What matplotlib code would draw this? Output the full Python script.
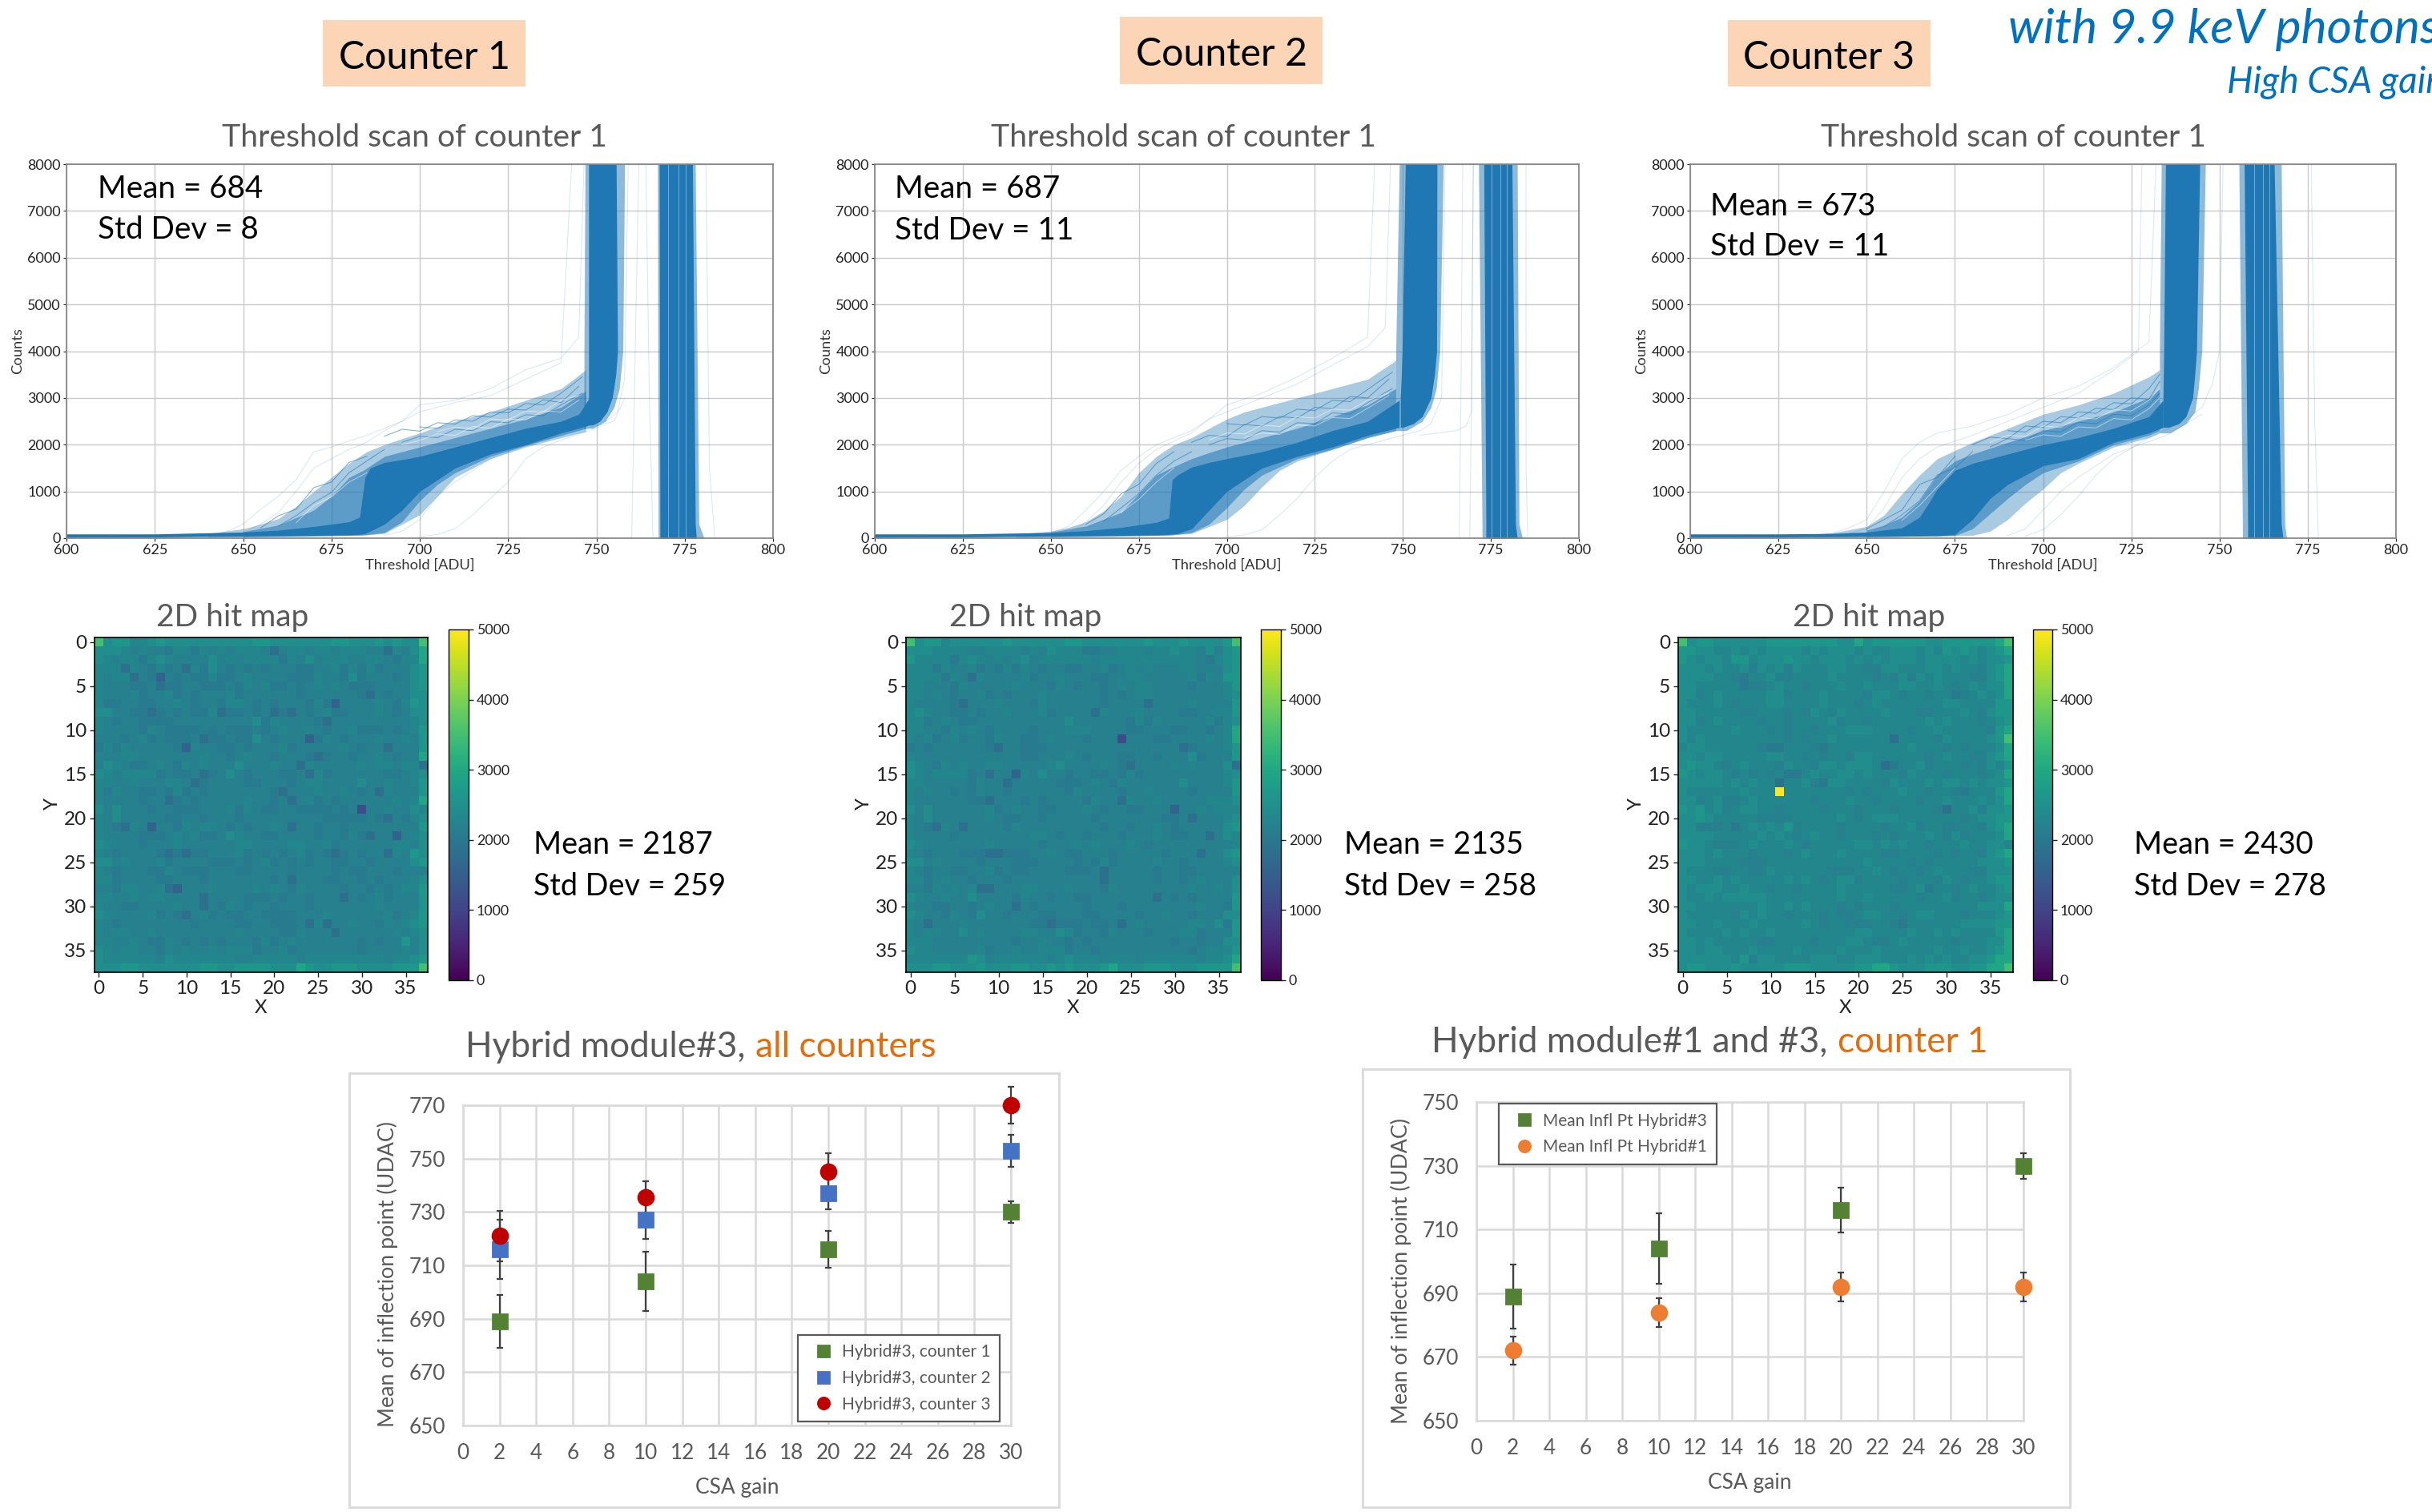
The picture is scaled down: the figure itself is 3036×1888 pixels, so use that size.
import numpy as np
import matplotlib
matplotlib.use('Agg')
import matplotlib.pyplot as plt
from matplotlib.patches import Rectangle

plt.rcParams['font.family'] = ['Lato', 'DejaVu Sans']

W, H = 3036, 1888
BLUE = '#1f77b4'
GRAY = '#595959'
ORANGE = '#E46C0A'

# threshold scans, values: dense band, inner and outer bands, rise and fall
scan1_core_x = [600, 625, 650, 660, 670, 680, 683, 684.5, 686, 690, 695, 700, 710, 720, 730, 740, 745, 748]
scan1_core_hi = [90, 90, 130, 170, 250, 350, 450, 1300, 1500, 1620, 1680, 1750, 1950, 2150, 2350, 2500, 2650, 3000]
scan1_core_lo = [20, 25, 40, 50, 60, 70, 80, 100, 150, 300, 600, 1000, 1500, 1800, 2000, 2250, 2350, 2420]
scan1_inner_x = [650, 660, 670, 675, 680, 684, 690, 695, 700, 705, 710, 720, 730, 740, 747]
scan1_inner_hi = [140, 280, 600, 900, 1300, 1450, 1750, 1850, 1950, 2050, 2150, 2350, 2550, 2800, 3150]
scan1_inner_lo = [30, 40, 50, 55, 60, 65, 120, 350, 800, 1150, 1400, 1750, 1980, 2200, 2350]
scan1_outer_x = [640, 650, 655, 660, 665, 670, 675, 680, 685, 690, 695, 700, 705, 710, 720, 730, 740, 747]
scan1_outer_hi = [100, 200, 300, 420, 680, 1000, 1300, 1600, 1850, 2000, 2130, 2250, 2380, 2500, 2700, 2950, 3200, 3600]
scan1_outer_lo = [20, 25, 28, 30, 35, 40, 50, 60, 70, 100, 300, 500, 900, 1300, 1700, 1950, 2150, 2280]
scan1_rise = ([2420, 2500, 2700, 3000, 3500, 4000, 8000], [747.8, 747.8, 747.8, 747.8, 747.8, 747.8, 747.8],
              [749, 751, 753, 754.5, 755.5, 756, 755.6])
scan1_rise_mid = ([2350, 2500, 2800, 3200, 4000, 8000], [746.5, 746.5, 746.5, 746.5, 746.5, 746.8],
                  [749, 752.5, 755, 756.5, 757.5, 758])
scan1_fall = ([0, 300, 8000], [768, 768, 767.8], [778.3, 778, 777.2])
scan1_fall_mid = ([0, 300, 8000], [767.5, 767.5, 767.3], [780.5, 779, 778])
scan1_gaps = [770.4, 773.2, 775.3]
scan1_faint = [
    ([640, 645, 650, 655, 660, 665, 670, 675, 680, 685, 690, 695, 700, 710, 720, 730, 740, 745, 746.5],
     [50, 130, 300, 620, 900, 1250, 1850, 1950, 2080, 2200, 2350, 2500, 2850, 2950, 3200, 3600, 3850, 4300, 8000]),
    ([650, 655, 660, 665, 670, 675, 680, 685, 690, 700, 710, 720, 730, 740, 743],
     [100, 300, 550, 1000, 1500, 1700, 1900, 2050, 2300, 2700, 2900, 3050, 3400, 3750, 8000]),
    ([700, 705, 710, 715, 720, 725, 730, 735, 740, 750, 756, 758, 759],
     [30, 80, 200, 500, 850, 1200, 1700, 1950, 2100, 2350, 2700, 3400, 8000]),
    ([690, 695, 700, 705, 710, 715, 720, 730, 745, 755, 758],
     [60, 150, 400, 900, 1200, 1450, 1700, 2000, 2300, 2500, 3000]),
    ([762, 761, 760], [8000, 4000, 0]),
    ([764, 765, 766], [8000, 3000, 0]),
    ([781, 782, 783.5], [8000, 1500, 0]),
]
scan1_strands = [
    ([690, 695, 700, 705, 710, 715, 720, 725, 730, 735, 740, 745], [2180, 2330, 2290, 2470, 2440, 2620, 2590, 2760, 2740, 2960, 2900, 3250]),
    ([695, 700, 705, 710, 715, 720, 725, 730, 735, 740, 746], [2050, 2180, 2150, 2330, 2300, 2490, 2470, 2640, 2620, 2850, 3100]),
    ([700, 705, 710, 715, 720, 725, 730, 735, 740, 746], [2380, 2350, 2530, 2500, 2700, 2680, 2880, 2850, 3100, 3450]),
    ([655, 660, 665, 670, 675, 680, 685], [220, 480, 620, 1080, 1200, 1620, 1750]),
    ([660, 665, 670, 675, 680, 685, 690], [260, 480, 760, 980, 1400, 1650, 1900]),
]
scan1_white = [
    ([695, 700, 705, 710, 715, 720, 725, 730, 735, 740, 745], [2000, 2090, 2230, 2200, 2390, 2350, 2550, 2530, 2720, 2700, 2950]),
    ([705, 710, 715, 720, 725, 730, 735, 740, 745], [2280, 2380, 2340, 2550, 2530, 2720, 2700, 2950, 3050]),
    ([665, 670, 675, 680, 685], [330, 700, 880, 1200, 1400]),
]
scan1_text = ('Mean = 684', 'Std Dev = 8')

scan2_core_x = [600, 625, 650, 660, 670, 680, 683.5, 684.5, 686, 690, 695, 700, 710, 720, 730, 740, 749]
scan2_core_hi = [90, 90, 120, 160, 230, 340, 430, 1250, 1350, 1520, 1620, 1700, 1850, 2050, 2300, 2500, 2950]
scan2_core_lo = [20, 25, 40, 50, 60, 70, 80, 90, 100, 200, 600, 1000, 1500, 1750, 1950, 2200, 2370]
scan2_inner_x = [650, 660, 670, 675, 680, 684, 690, 695, 700, 705, 710, 720, 730, 740, 748]
scan2_inner_hi = [130, 260, 550, 950, 1350, 1500, 1700, 1830, 1950, 2050, 2150, 2350, 2600, 2850, 3200]
scan2_inner_lo = [30, 40, 50, 55, 60, 65, 120, 300, 650, 1050, 1350, 1700, 1900, 2150, 2300]
scan2_outer_x = [640, 650, 655, 660, 665, 670, 675, 680, 685, 690, 695, 700, 705, 710, 715, 720, 730, 740, 748]
scan2_outer_hi = [90, 150, 230, 350, 580, 900, 1400, 1750, 2000, 2150, 2350, 2550, 2700, 2800, 2900, 3000, 3200, 3400, 3800]
scan2_outer_lo = [20, 25, 28, 30, 35, 40, 50, 60, 70, 100, 250, 400, 700, 1100, 1450, 1650, 1900, 2150, 2300]
scan2_rise = ([2370, 2450, 2600, 3000, 3500, 4000, 8000], [749.3, 749.3, 749.3, 749.3, 749.6, 749.8, 750.7],
              [750, 753, 755.5, 758, 759, 759.6, 759.7])
scan2_rise_mid = ([2300, 2500, 2800, 3200, 4000, 8000], [748, 748, 748, 748, 748, 749],
                  [751, 755.5, 758, 759.5, 760.5, 761.5])
scan2_fall = ([0, 300, 8000], [773.6, 773.6, 773], [782.5, 782, 781])
scan2_fall_mid = ([0, 300, 8000], [772.5, 772.5, 771.5], [784, 783, 782.5])
scan2_gaps = [775.3, 777.8, 779.6]
scan2_faint = [
    ([645, 650, 655, 660, 665, 670, 675, 680, 685, 690, 695, 700, 710, 720, 730, 740, 745, 746.5],
     [50, 120, 250, 600, 1000, 1450, 1750, 2000, 2150, 2300, 2550, 2700, 3000, 3300, 3700, 4100, 4500, 8000]),
    ([655, 660, 665, 670, 675, 680, 690, 700, 710, 720, 730, 740, 742],
     [100, 350, 700, 1200, 1600, 1900, 2250, 2850, 3100, 3450, 3850, 4300, 8000]),
    ([700, 705, 710, 715, 720, 725, 730, 735, 745, 755, 758, 761, 762],
     [30, 70, 180, 500, 850, 1300, 1650, 1900, 2100, 2300, 2450, 3000, 8000]),
    ([755, 760, 765, 768, 769.5, 770], [2200, 2250, 2300, 2400, 2700, 8000]),
    ([767, 766.5, 766], [8000, 3000, 0]),
    ([770, 769.5, 769], [8000, 3000, 0]),
    ([785, 785, 785.5], [8000, 1500, 0]),
]
scan2_strands = [
    ([690, 695, 700, 705, 710, 715, 720, 725, 730, 735, 740, 746], [2050, 2200, 2170, 2430, 2400, 2600, 2570, 2800, 2770, 3030, 3000, 3400]),
    ([695, 700, 705, 710, 715, 720, 725, 730, 735, 740, 747], [2000, 2130, 2100, 2300, 2270, 2470, 2450, 2680, 2650, 2900, 3200]),
    ([700, 705, 710, 715, 720, 725, 730, 735, 740, 747], [2450, 2420, 2600, 2570, 2760, 2730, 2950, 2920, 3180, 3550]),
    ([660, 665, 670, 675, 680, 685], [300, 520, 950, 1150, 1600, 1850]),
    ([665, 670, 675, 680, 685, 690], [360, 650, 950, 1350, 1650, 1850]),
]
scan2_white = [
    ([695, 700, 705, 710, 715, 720, 725, 730, 735, 740, 746], [2100, 2250, 2230, 2420, 2390, 2600, 2570, 2760, 2740, 2950, 3100]),
    ([705, 710, 715, 720, 725, 730, 735, 740, 746], [2150, 2250, 2220, 2420, 2400, 2580, 2560, 2780, 3050]),
    ([670, 675, 680, 685], [550, 830, 1200, 1500]),
]
scan2_text = ('Mean = 687', 'Std Dev = 11')

scan3_core_x = [600, 625, 640, 650, 660, 665, 668, 670, 675, 680, 685, 690, 695, 700, 710, 720, 730, 734]
scan3_core_hi = [90, 90, 100, 130, 220, 450, 800, 1050, 1450, 1600, 1700, 1800, 1900, 2000, 2150, 2350, 2600, 2950]
scan3_core_lo = [20, 25, 30, 35, 40, 45, 50, 50, 80, 400, 850, 1150, 1350, 1550, 1700, 2050, 2250, 2370]
scan3_inner_x = [650, 655, 660, 665, 670, 675, 680, 690, 695, 700, 710, 720, 730, 733]
scan3_inner_hi = [170, 280, 450, 800, 1350, 1650, 1800, 2050, 2170, 2300, 2500, 2700, 3000, 3200]
scan3_inner_lo = [30, 35, 40, 45, 50, 55, 200, 850, 1150, 1400, 1650, 2000, 2200, 2300]
scan3_outer_x = [635, 640, 650, 655, 660, 665, 670, 680, 685, 690, 695, 700, 705, 710, 720, 730, 733]
scan3_outer_hi = [80, 110, 250, 500, 950, 1350, 1700, 2050, 2200, 2350, 2500, 2650, 2750, 2850, 3100, 3450, 3600]
scan3_outer_lo = [20, 25, 30, 35, 40, 45, 50, 60, 150, 400, 750, 1050, 1400, 1600, 1950, 2150, 2250]
scan3_rise = ([2370, 2450, 2600, 3000, 3500, 4000, 8000], [734, 734, 734, 734, 734.1, 734.2, 734.7],
              [735.5, 738.5, 740.5, 742.4, 743, 743.5, 744.4])
scan3_rise_mid = ([2250, 2450, 2700, 3200, 4000, 8000], [733, 733, 733, 733, 733, 733.5],
                  [736, 740.5, 743, 744, 745, 746])
scan3_fall = ([0, 300, 8000], [758, 758, 757], [768, 767.5, 765.5])
scan3_fall_mid = ([0, 300, 8000], [756.5, 756.5, 755.5], [769, 768.5, 767.5])
scan3_gaps = [759.8, 762.4, 764.2]
scan3_faint = [
    ([630, 640, 645, 650, 655, 660, 665, 670, 680, 690, 700, 710, 720, 730, 732],
     [40, 100, 220, 400, 1000, 1700, 2050, 2250, 2400, 2650, 3000, 3250, 3650, 4200, 8000]),
    ([640, 645, 650, 655, 660, 665, 670, 680, 690, 700, 710, 720, 727, 728],
     [50, 100, 200, 650, 1300, 1700, 1950, 2200, 2500, 2800, 3100, 3600, 4000, 8000]),
    ([695, 700, 705, 710, 715, 720, 730, 740, 745, 748, 750, 751],
     [50, 180, 500, 900, 1350, 1700, 2150, 2500, 2800, 3300, 4000, 8000]),
    ([690, 695, 700, 705, 710, 720, 735, 745],
     [60, 200, 600, 1000, 1300, 1800, 2200, 2650]),
    ([776, 777, 778], [8000, 2500, 0]),
]
scan3_strands = [
    ([680, 685, 690, 695, 700, 705, 710, 715, 720, 725, 730, 733], [2000, 2160, 2130, 2400, 2370, 2600, 2570, 2780, 2750, 3000, 2970, 3350]),
    ([685, 690, 695, 700, 705, 710, 715, 720, 725, 730, 733], [1950, 2130, 2090, 2300, 2270, 2480, 2450, 2650, 2620, 2850, 3100]),
    ([690, 695, 700, 705, 710, 715, 720, 725, 730, 733], [2300, 2270, 2500, 2470, 2700, 2670, 2900, 2870, 3200, 3500]),
    ([650, 655, 660, 665, 670, 675], [200, 400, 600, 1150, 1300, 1750]),
    ([655, 660, 665, 670, 675, 680], [250, 500, 800, 1350, 1500, 1850]),
]
scan3_white = [
    ([685, 690, 695, 700, 705, 710, 715, 720, 725, 730, 733], [2050, 2200, 2180, 2400, 2370, 2580, 2550, 2750, 2720, 2950, 3200]),
    ([695, 700, 705, 710, 715, 720, 725, 730, 733], [2100, 2210, 2180, 2380, 2360, 2560, 2530, 2770, 3000]),
    ([660, 665, 670, 675], [380, 700, 1100, 1500]),
]
scan3_text = ('Mean = 673', 'Std Dev = 11')

# hit maps, one digit per pixel, digit = level in hit_levels, Y = saturated pixel
hit_levels = {'0': 1200, '1': 1600, '2': 1850, '3': 2050, '4': 2170, '5': 2300,
              '6': 2450, '7': 2650, '8': 2950, '9': 3500, 'Y': 5000}
hit1_rows = [
    "96775 56766 66666 66677 66666 66776 66767 669",
    "66654 54435 53545 45554 24554 55455 54425 468",
    "65455 35654 44464 54555 53546 45554 45543 558",
    "55525 43534 25364 34343 44433 44535 35344 467",
    "54552 43143 43353 34544 44333 54436 34443 467",
    "54443 34233 44333 43545 33434 54543 33444 467",
    "54445 34453 43444 53444 44434 44444 32434 466",
    "53344 33445 43443 55434 34443 53144 44543 576",
    "66443 32343 43352 33434 23243 45334 44543 466",
    "54344 33334 44444 44463 54444 32444 44444 456",
    "54444 35433 33434 33343 45445 43445 33343 457",
    "44434 53433 34233 43364 34441 35434 44544 547",
    "35354 44443 15443 34344 45344 44454 34424 447",
    "54455 44444 44544 34544 34443 23443 44543 448",
    "46543 34543 54544 46444 54425 44444 54554 552",
    "65455 55343 34234 64344 43342 53444 44433 456",
    "55445 44455 42344 44334 44345 54444 64454 457",
    "53544 33435 34344 44444 32444 54454 34254 447",
    "54444 34423 43444 44544 34245 34344 44445 458",
    "64644 43443 33444 53543 34433 33434 04454 465",
    "54644 44433 44344 43444 44444 43333 34324 356",
    "54325 41443 54554 34344 54244 34434 44444 447",
    "54444 33345 45334 65443 34444 34435 32441 456",
    "65444 34445 44444 45544 44554 45344 44445 546",
    "54344 44323 23344 45343 43453 43234 34425 476",
    "66454 44534 44433 34345 34343 44334 43444 467",
    "54344 43354 33344 43344 44344 44343 34443 444",
    "55344 44334 44344 44444 34244 43344 34344 456",
    "44355 44521 44454 44454 54354 44434 43434 557",
    "55445 45544 44244 44333 43443 44424 34534 447",
    "54433 44445 44243 54344 34443 44444 44544 447",
    "65444 45343 24534 33443 33344 45444 44453 457",
    "54344 44444 43444 43344 33342 52445 44354 567",
    "54554 45444 44444 45444 43354 44244 44445 456",
    "55445 43354 34343 44435 34544 44444 34344 746",
    "65455 44354 54454 55534 45344 44444 34444 546",
    "65555 55465 55555 54455 55545 55555 55545 567",
    "66677 66666 66776 67777 66687 66777 66667 779",
]
hit2_rows = [
    "96775 66666 67666 66677 66666 66766 67666 679",
    "66655 55445 55545 46555 33445 55455 65546 467",
    "75555 35654 54564 55555 54555 55555 55543 567",
    "55535 44534 35354 34433 44534 54544 45544 467",
    "55553 54254 44453 44544 43344 55444 44535 477",
    "55444 35444 44544 43543 44345 45544 44344 457",
    "55454 34453 43444 54444 44343 45544 44444 456",
    "54444 32444 54443 54444 44344 44244 44544 447",
    "56544 33434 45444 53444 42544 45444 43344 557",
    "55345 43344 44444 44464 44444 35354 44445 356",
    "55443 54543 44443 44455 54444 33444 33443 458",
    "54534 53443 54433 45444 34440 44433 44445 458",
    "34344 44443 24433 34444 44444 44444 42344 457",
    "54444 44444 44433 44454 34443 34434 44634 447",
    "65435 45445 54444 45644 44543 24444 54544 462",
    "65455 55342 44154 64434 43343 53444 44444 456",
    "55444 44354 42444 44333 45435 44444 46444 457",
    "54544 34354 43444 44435 44443 44544 44344 447",
    "54444 44332 44434 34444 35442 54454 44445 556",
    "64644 44445 34544 33444 54344 33444 14454 555",
    "54644 44445 43344 34444 43444 44443 34244 456",
    "54325 42444 43544 44444 44344 34454 34444 467",
    "54444 34444 44445 54344 34443 44454 33442 465",
    "65444 44445 44444 34445 45444 54344 44444 445",
    "54344 43332 23334 45433 44434 44443 44424 467",
    "66454 44434 44333 44443 43534 44454 43444 456",
    "54344 33445 34334 44433 34244 44434 43344 444",
    "55345 44344 43444 44444 44244 44434 43454 446",
    "44354 54522 44455 44454 44354 44444 44544 546",
    "65445 44644 44354 43443 34444 44424 34344 447",
    "54433 44345 44243 44444 34443 44444 44454 437",
    "65443 54364 43444 33444 33444 43445 44344 466",
    "54244 45444 44443 32333 43342 45444 44554 637",
    "54554 46454 44455 44653 44354 44344 45534 447",
    "55544 44444 44344 54434 34444 44444 34434 466",
    "65544 44453 44544 55534 43444 44444 44345 557",
    "55555 55764 55555 54565 55455 54555 55545 568",
    "66677 66676 66776 67676 66786 66777 66677 779",
]
hit3_rows = [
    "96776 66666 77777 77766 86777 77766 77777 789",
    "77665 56565 66665 65666 56556 66565 76765 678",
    "76566 57756 66766 56665 65656 66566 66565 667",
    "66656 55646 56465 55665 54466 55566 56554 678",
    "66665 54355 64455 55655 55454 64656 55544 678",
    "66555 55344 56554 55565 56555 66556 54565 668",
    "66456 55555 66455 56555 54665 45545 53456 568",
    "65556 54555 66555 56555 45655 55555 66555 577",
    "66555 55445 55454 65465 55565 55445 55654 677",
    "66456 55554 55455 55645 54555 55565 65554 567",
    "65555 56555 45455 45556 66555 54556 55555 478",
    "65655 55555 55454 55655 55552 55554 65555 679",
    "56655 55554 33555 43555 55555 56555 45455 568",
    "66566 55555 66554 54554 66555 55545 65544 678",
    "67665 45655 54655 46656 66523 55645 55454 657",
    "76566 54545 45335 65566 56555 46555 45554 568",
    "66666 56565 52556 43665 55546 55565 66565 667",
    "65555 55655 5Y555 55554 54555 65545 54355 578",
    "66456 44565 55555 45556 55455 55455 65556 568",
    "76756 45665 54555 54555 45554 55554 25564 667",
    "66765 55554 44455 55565 45666 55555 55456 677",
    "66444 53565 65745 55545 55545 56455 44554 678",
    "66665 55556 56545 65545 55454 55565 46455 568",
    "76654 44565 55654 55555 66565 65545 55655 665",
    "66656 55545 55456 55565 55544 55554 54554 678",
    "66655 55444 55555 55555 56555 54545 55556 667",
    "65554 45544 65555 55444 55654 55456 55544 666",
    "66556 56555 55656 54566 45555 45554 65455 677",
    "65666 55655 45545 55565 55554 45635 54565 567",
    "65565 66666 55555 55565 56555 55455 64554 566",
    "66555 55556 55656 55545 45554 55555 55556 668",
    "65555 54656 55455 54544 56655 45665 55455 567",
    "66556 55565 55556 54554 44554 35555 55666 677",
    "65555 65655 65555 55555 66555 56556 56555 578",
    "66565 55554 45555 45556 65445 65555 54555 668",
    "66566 55565 55565 55565 55655 55556 55655 678",
    "66666 65746 65555 66655 66655 56565 65566 788",
    "67766 67666 66777 66666 77887 66677 76677 889",
]
hit1_text = ('Mean = 2187', 'Std Dev = 259')
hit2_text = ('Mean = 2135', 'Std Dev = 258')
hit3_text = ('Mean = 2430', 'Std Dev = 278')

# inflection point summary
gain = [2, 10, 20, 30]
counter1_mean = [689, 704, 716, 730]
counter1_err = [10, 11, 7, 4]
counter2_mean = [716, 727, 737, 753]
counter2_err = [11, 7, 6, 6]
counter3_mean = [721, 735.5, 745, 770]
counter3_err = [9.5, 6, 7, 7]
hybrid1_mean = [672, 684, 692, 692]
hybrid1_err = [4.5, 4.5, 4.5, 4.5]

fig = plt.figure(figsize=(W / 200, H / 200), dpi=200, facecolor='white')


def px_axes(l, t, r, b):
    return fig.add_axes([l / W, 1 - b / H, (r - l) / W, (b - t) / H])


def px_text(x, y, s, **kw):
    kw.setdefault('va', 'center')
    return fig.text(x / W, 1 - y / H, s, **kw)


def draw_scan(box, core, inner, outer, rise, rise_mid, fall, fall_mid, gaps, faint, strands, white):
    ax = px_axes(*box)
    ax.grid(True, color='#c9c9c9', lw=0.5)
    ax.set_axisbelow(True)
    for xs, ys in faint:
        ax.plot(xs, ys, color=BLUE, lw=0.4, alpha=0.16)
    ax.fill_between(outer[0], outer[2], outer[1], color=BLUE, alpha=0.38, lw=0)
    ax.fill_between(inner[0], inner[2], inner[1], color=BLUE, alpha=0.55, lw=0)
    for xs, ys in strands:
        ax.plot(xs, ys, color=BLUE, lw=0.4, alpha=0.55)
    for xs, ys in white:
        ax.plot(xs, ys, color='white', lw=0.4, alpha=0.45)
    ax.fill_betweenx(rise_mid[0], rise_mid[1], rise_mid[2], color=BLUE, alpha=0.5, lw=0)
    ax.fill_betweenx(fall_mid[0], fall_mid[1], fall_mid[2], color=BLUE, alpha=0.5, lw=0)
    ax.fill_between(core[0], core[2], core[1], color=BLUE, lw=0)
    ax.fill_betweenx(rise[0], rise[1], rise[2], color=BLUE, lw=0)
    ax.fill_betweenx(fall[0], fall[1], fall[2], color=BLUE, lw=0)
    ax.vlines(gaps, 0, 8000, color='white', lw=0.35, alpha=0.4)
    ax.set_xlim(600, 800)
    ax.set_ylim(0, 8000)
    ax.set_xticks(range(600, 801, 25))
    ax.set_yticks(range(0, 8001, 1000))
    ax.tick_params(labelsize=6.5, length=1.5, width=0.4, pad=1, colors='#222222')
    ax.set_xlabel('Threshold [ADU]', fontsize=6.6, labelpad=1, color='#333333')
    ax.set_ylabel('Counts', fontsize=6.6, labelpad=1.5, color='#333333')
    for s in ax.spines.values():
        s.set_color('#808080')
        s.set_linewidth(0.6)
    return ax


def draw_hit(box, cbox, rows):
    grid = np.array([[hit_levels[c] for c in r.replace(' ', '')] for r in rows])
    ax = px_axes(*box)
    im = ax.imshow(grid, cmap='viridis', vmin=0, vmax=5000, aspect='auto', interpolation='nearest')
    ax.set_xticks(range(0, 36, 5))
    ax.set_yticks(range(0, 36, 5))
    ax.tick_params(labelsize=8.8, length=2, width=0.5, pad=1.5, colors='#222222')
    ax.set_xlabel('X', fontsize=8.6, labelpad=1.2, color='#222222')
    ax.set_ylabel('Y', fontsize=8.6, labelpad=1.5, color='#222222')
    for s in ax.spines.values():
        s.set_linewidth(0.6)
    cax = px_axes(*cbox)
    cb = fig.colorbar(im, cax=cax)
    cb.set_ticks(range(0, 5001, 1000))
    cb.ax.tick_params(labelsize=6.4, length=2, width=0.5, pad=1.5, colors='#222222')
    cb.outline.set_linewidth(0.5)


def draw_summary(box, frame, ylim, yticks, series, legend_box, label_y):
    fig.add_artist(Rectangle((frame[0] / W, 1 - frame[3] / H), (frame[2] - frame[0]) / W,
                             (frame[3] - frame[1]) / H, transform=fig.transFigure,
                             fc='white', ec='#d9d9d9', lw=1.0, zorder=-1))
    ax = px_axes(*box)
    ax.set_xlim(0, 30)
    ax.set_ylim(*ylim)
    ax.set_xticks(range(0, 31, 2))
    ax.set_yticks(yticks)
    ax.grid(True, color='#d9d9d9', lw=0.9)
    ax.set_axisbelow(True)
    ax.tick_params(length=0, labelsize=9.4, colors=GRAY, pad=8)
    for s in ax.spines.values():
        s.set_color('#d9d9d9')
        s.set_linewidth(0.9)
    for mean, err, col, mk, lab in series:
        ax.errorbar(gain, mean, yerr=err, fmt='none', ecolor='#404040', elinewidth=0.8,
                    capsize=1.6, capthick=0.8, clip_on=False, zorder=3)
        ax.plot(gain, mean, ls='none', marker=mk, ms=6.8, mfc=col, mec=col, clip_on=False,
                label=lab, zorder=4)
    ax.set_xlabel('CSA gain', fontsize=9.5, color=GRAY, labelpad=6.5)
    ax.set_ylabel('Mean of inflection point (UDAC)', fontsize=9.65, color=GRAY)
    ax.yaxis.set_label_coords(-0.118, label_y)
    leg = ax.legend(loc='center', bbox_to_anchor=legend_box, bbox_transform=ax.transAxes,
                    fontsize=7.5, labelcolor=GRAY, fancybox=False, framealpha=1,
                    edgecolor='#595959', markerscale=0.75, handletextpad=0.1,
                    borderpad=0.55, labelspacing=0.6)
    leg.get_frame().set_linewidth(0.8)
    leg.set_zorder(5)
    return ax


# top row
draw_scan((83, 205, 965, 672), (scan1_core_x, scan1_core_hi, scan1_core_lo),
          (scan1_inner_x, scan1_inner_hi, scan1_inner_lo), (scan1_outer_x, scan1_outer_hi, scan1_outer_lo),
          scan1_rise, scan1_rise_mid, scan1_fall, scan1_fall_mid, scan1_gaps, scan1_faint, scan1_strands, scan1_white)
draw_scan((1092, 205, 1971, 672), (scan2_core_x, scan2_core_hi, scan2_core_lo),
          (scan2_inner_x, scan2_inner_hi, scan2_inner_lo), (scan2_outer_x, scan2_outer_hi, scan2_outer_lo),
          scan2_rise, scan2_rise_mid, scan2_fall, scan2_fall_mid, scan2_gaps, scan2_faint, scan2_strands, scan2_white)
draw_scan((2110, 205, 2991, 672), (scan3_core_x, scan3_core_hi, scan3_core_lo),
          (scan3_inner_x, scan3_inner_hi, scan3_inner_lo), (scan3_outer_x, scan3_outer_hi, scan3_outer_lo),
          scan3_rise, scan3_rise_mid, scan3_fall, scan3_fall_mid, scan3_gaps, scan3_faint, scan3_strands, scan3_white)

for x, y1, y2, txt in [(122, 236, 287, scan1_text), (1117, 236, 288, scan2_text), (2135, 258, 308, scan3_text)]:
    px_text(x, y1, txt[0], fontsize=13.9, color='black')
    px_text(x, y2, txt[1], fontsize=13.9, color='black')

for cx, s in [(517, 'Threshold scan of counter 1'), (1477, 'Threshold scan of counter 1'),
              (2513, 'Threshold scan of counter 1')]:
    px_text(cx, 172, s, fontsize=14.1, color=GRAY, ha='center')

# counter headers
for l, t, r, b, s in [(403, 25, 656, 108, 'Counter 1'), (1398, 21, 1651, 105, 'Counter 2'),
                      (2157, 25, 2410, 108, 'Counter 3')]:
    fig.add_artist(Rectangle((l / W, 1 - b / H), (r - l) / W, (b - t) / H,
                             transform=fig.transFigure, fc='#FBD5B5', ec='none', zorder=-1))
    px_text((l + r) / 2, (t + b) / 2 + 5, s, fontsize=17.4, color='black', ha='center')

px_text(2507, 37, 'with 9.9 keV photons', fontsize=21.8, color='#0070C0', style='italic')
px_text(2780, 103, 'High CSA gain', fontsize=16.5, color='#0070C0', style='italic')

# hit maps
draw_hit((118, 796, 534, 1214), (560, 786, 585, 1224), hit1_rows)
draw_hit((1131, 796, 1549, 1214), (1574, 786, 1599, 1224), hit2_rows)
draw_hit((2095, 796, 2513, 1214), (2538, 786, 2562, 1224), hit3_rows)

for cx, s in [(290, '2D hit map'), (1280, '2D hit map'), (2333, '2D hit map')]:
    px_text(cx, 771, s, fontsize=14, color=GRAY, ha='center')
for x, txt in [(666, hit1_text), (1678, hit2_text), (2664, hit3_text)]:
    px_text(x, 1055, txt[0], fontsize=13.6, color='black')
    px_text(x, 1107, txt[1], fontsize=13.6, color='black')

# summary charts
draw_summary((578, 1380, 1262, 1780), (436, 1340, 1322, 1882), (650, 770), range(650, 771, 20),
             [(counter1_mean, counter1_err, '#548235', 's', 'Hybrid#3, counter 1'),
              (counter2_mean, counter2_err, '#4472C4', 's', 'Hybrid#3, counter 2'),
              (counter3_mean, counter3_err, '#C00000', 'o', 'Hybrid#3, counter 3')],
             (0.795, 0.1475), 0.4725)
draw_summary((1843, 1376, 2526, 1774), (1701, 1335, 2584, 1882), (650, 750), range(650, 751, 20),
             [(counter1_mean, counter1_err, '#548235', 's', 'Mean Infl Pt Hybrid#3'),
              (hybrid1_mean, hybrid1_err, '#ED7D31', 'o', 'Mean Infl Pt Hybrid#1')],
             (0.24, 0.90), 0.47)

px_text(581, 1307, 'Hybrid module#3,', fontsize=15.9, color=GRAY)
px_text(943, 1307, 'all counters', fontsize=16, color=ORANGE)
px_text(1787, 1301, 'Hybrid module#1 and #3,', fontsize=15.9, color=GRAY)
px_text(2294, 1301, 'counter 1', fontsize=15.9, color=ORANGE)

fig.savefig('out.png', dpi=200)
